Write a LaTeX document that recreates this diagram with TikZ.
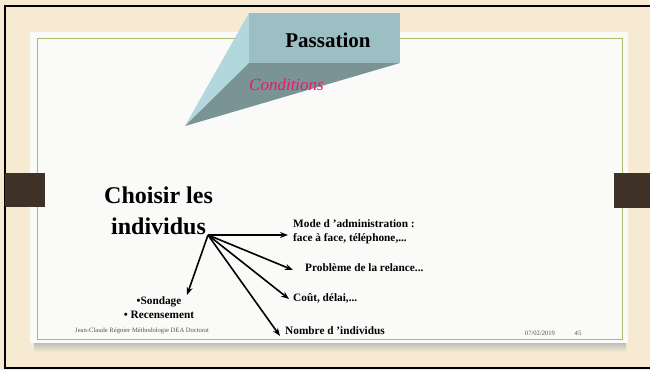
\documentclass[tikz,border=0pt]{standalone}
\usepackage{fontspec}
\setmainfont{Liberation Serif}
\usetikzlibrary{arrows.meta}
\definecolor{parch}{HTML}{F6EBD2}
\definecolor{panel}{HTML}{FAFAF9}
\definecolor{frameg}{HTML}{A8BE6A}
\definecolor{tabc}{HTML}{3E3228}
\definecolor{ptop}{HTML}{9BBFC2}
\definecolor{plight}{HTML}{B2D8DD}
\definecolor{pdark}{HTML}{7A9496}
\definecolor{mag}{HTML}{E8186A}
\definecolor{foot}{HTML}{555555}
\tikzset{
  x=1pt,y=-1pt,
  lbl/.style={font=\fontsize{11.3}{13}\selectfont\bfseries, inner sep=0pt, anchor=west, align=left},
  arr/.style={-{Stealth[length=8pt,width=6pt]}, line width=1.6pt},
  big/.style={font=\fontsize{24}{29}\selectfont\bfseries, inner sep=0pt, align=center},
  small/.style={font=\fontsize{6.6}{7}\selectfont, text=foot, inner sep=0pt}
}
\begin{document}
\begin{tikzpicture}
\useasboundingbox (0,0) rectangle (650,370);
% background
\fill[parch] (0,0) rectangle (650,370);
\draw[black, line width=2pt] (650,6) -- (5,6) -- (5,368) -- (650,368);
% shadow of panel
\shade[top color=black!30, bottom color=parch] (34,341) rectangle (626,352);
% white panel
\fill[panel] (30,32) rectangle (628,343);
\draw[frameg, line width=0.9pt] (37,38) rectangle (622,339);
% side tabs
\fill[tabc] (5,173) rectangle (45,207);
\fill[tabc] (614,173) rectangle (650,208);
% pyramid
\fill[plight] (249,13) -- (249,63) -- (185,126) -- cycle;
\fill[pdark] (249,63) -- (400,63) -- (185,126) -- cycle;
\fill[ptop] (249,13) rectangle (400,63);
\node[font=\fontsize{21}{25}\selectfont\bfseries, inner sep=0pt] (pass) at (328,40) {Passation};
\node[font=\fontsize{17}{20}\selectfont\itshape, text=mag, inner sep=0pt, anchor=west] (cond) at (249,85) {Conditions};
% main text
\node[big, anchor=west] (choisir) at (104,195) {Choisir les};
\node[big, anchor=west] (indiv) at (111,226) {individus};
\coordinate (o) at (208,235);
\node[lbl] (mode) at (293,232) {Mode d 'administration :\\[1pt]face à face, téléphone,...};
\node[lbl] (prob) at (305,268) {Problème de la relance...};
\node[lbl] (cout) at (293,298) {Coût, délai,...};
\node[lbl] (nomb) at (285,331) {Nombre d 'individus};
\node[lbl, anchor=center, align=center] (sond) at (159,308) {•Sondage\\[1pt]• Recensement};
\draw[arr] (o) -- (288,235);
\draw[arr] (o) -- (293,270);
\draw[arr] (o) -- (289,299);
\draw[arr] (o) -- (280,336);
\draw[arr] (o) -- (187,295);
% footer
\node[small, anchor=west] (f1) at (75,331) {Jean-Claude Régnier Méthodologie DEA Doctorat};
\node[small] (f2) at (540,333) {07/02/2019};
\node[small] (f3) at (578,333) {45};
\end{tikzpicture}
\end{document}
